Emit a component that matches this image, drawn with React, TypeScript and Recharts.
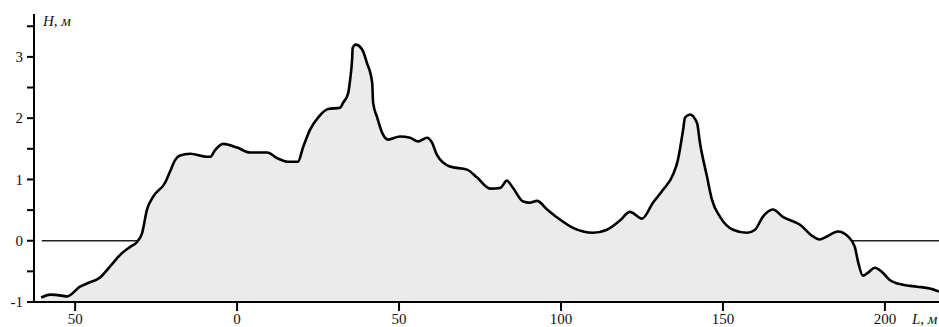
import React from 'react';
import { ComposedChart, Area, Line, XAxis, YAxis } from 'recharts';

// Profile: distance L (m) and height H (m)
const distance = [
  -60.5, -57.7, -53.7, -52.5, -48.5, -46.0, -42.3, -39.2, -36.1, -33.0, -30.9, -29.3, -27.8, -25.9,
  -22.2, -20.7, -19.1, -17.6, -14.5, -9.3, -8.3, -6.8, -4.3, 0, 4.0, 9.3, 12.3, 15.7, 18.8, 20.4,
  22.5, 25.0, 28.1, 31.8, 32.7, 34.3, 34.9, 35.5, 35.7, 36.6, 38.6, 40.1, 41.7, 42.0, 43.2, 44.8,
  46.6, 50.3, 53.4, 55.9, 58.6, 60.2, 61.7, 65.7, 71.0, 74.1, 78.1, 81.2, 83.3, 85.2, 88.3, 90.4,
  92.6, 95.7, 98.8, 103.7, 109.9, 114.2, 118.2, 121.3, 125.0, 128.4, 131.5, 134.6, 136.1, 137.7,
  138.3, 139.8, 142.0, 142.9, 145.1, 146.6, 149.1, 153.1, 157.4, 159.9, 162.3, 165.4, 168.5, 173.8,
  177.8, 179.9, 182.1, 185.5, 188.6, 190.7, 191.7, 193.2, 194.8, 196.9, 199.1, 201.5, 205.6, 209.9,
  213.9, 216.7,
];
const height = [
  -0.93, -0.88, -0.9, -0.91, -0.75, -0.69, -0.6, -0.42, -0.23, -0.1, -0.02, 0.13, 0.51, 0.72,
  0.95, 1.13, 1.32, 1.39, 1.42, 1.37, 1.37, 1.48, 1.58, 1.52, 1.44, 1.44, 1.35, 1.29, 1.29, 1.53,
  1.81, 2.01, 2.15, 2.17, 2.25, 2.41, 2.63, 2.95, 3.15, 3.2, 3.12, 2.9, 2.58, 2.25, 2.02, 1.76,
  1.65, 1.7, 1.68, 1.62, 1.68, 1.6, 1.4, 1.21, 1.16, 1.03, 0.85, 0.86, 0.98, 0.86, 0.64, 0.62,
  0.65, 0.51, 0.38, 0.21, 0.13, 0.18, 0.33, 0.47, 0.36, 0.62, 0.83, 1.08, 1.32, 1.81,
  2.01, 2.06, 1.92, 1.6, 1.04, 0.67, 0.39, 0.18, 0.13, 0.18, 0.39, 0.51, 0.39, 0.26,
  0.07, 0.02, 0.07, 0.15, 0.07, -0.1, -0.34, -0.57, -0.52, -0.44, -0.51, -0.64, -0.72, -0.75,
  -0.78, -0.83,
];

const xTickValues = [-50, 0, 50, 100, 150, 200];
const xTickLabels = ['50', '0', '50', '100', '150', '200'];
const yTickValues = [-1, -0.5, 0, 0.5, 1, 1.5, 2, 2.5, 3, 3.5];
const yTickLabels = ['-1', '', '0', '', '1', '', '2', '', '3', ''];

const zeroLineX = [-60.3, 216.7];
const zeroLineH = [0, 0];

const yAxisTitle = 'H, м';
const xAxisTitle = 'L, м';

const profile = distance.map((x, i) => ({ x, h: height[i] }));
const zeroLine = zeroLineX.map((x, i) => ({ x, z: zeroLineH[i] }));

const FONT = '"Liberation Serif", "Times New Roman", Times, serif';
const tickStyle = { fontFamily: FONT, fontSize: 15, fill: '#111' };
const X_DOMAIN: [number, number] = [-62.7, 216.7];
const Y_DOMAIN: [number, number] = [-1, 3.7];
const MARGIN = { top: 14, right: 0, bottom: 0, left: 0 };

export default function App() {
  return (
    <div
      style={{
        position: 'absolute',
        left: 0,
        top: 0,
        width: 939,
        height: 327,
        background: '#fff',
        fontFamily: FONT,
      }}
    >
      {/* Bottom layer: the zero reference line, hidden behind the profile */}
      <div style={{ position: 'absolute', left: 0, top: 0 }}>
        <ComposedChart width={939} height={327} data={zeroLine} margin={MARGIN}>
          <XAxis
            type="number"
            dataKey="x"
            domain={X_DOMAIN}
            allowDataOverflow
            height={25}
            tick={false}
            axisLine={false}
            tickLine={false}
          />
          <YAxis
            type="number"
            domain={Y_DOMAIN}
            allowDataOverflow
            width={34}
            tick={false}
            axisLine={false}
            tickLine={false}
          />
          <Line
            dataKey="z"
            type="linear"
            stroke="#222"
            strokeWidth={1.6}
            dot={false}
            activeDot={false}
            isAnimationActive={false}
          />
        </ComposedChart>
      </div>
      {/* Top layer: profile and axes */}
      <div style={{ position: 'absolute', left: 0, top: 0 }}>
        <ComposedChart width={939} height={327} data={profile} margin={MARGIN}>
          <XAxis
            type="number"
            dataKey="x"
            domain={X_DOMAIN}
            allowDataOverflow
            ticks={xTickValues}
            tickFormatter={(v: number) => xTickLabels[xTickValues.indexOf(v)] ?? ''}
            height={25}
            tickSize={9}
            tickMargin={2}
            tick={tickStyle}
            axisLine={{ stroke: '#000', strokeWidth: 2 }}
            tickLine={{ stroke: '#000', strokeWidth: 2 }}
            interval={0}
          />
          <YAxis
            type="number"
            domain={Y_DOMAIN}
            allowDataOverflow
            ticks={yTickValues}
            tickFormatter={(v: number) => yTickLabels[yTickValues.indexOf(v)] ?? ''}
            width={34}
            tickSize={7}
            tickMargin={4}
            tick={tickStyle}
            axisLine={{ stroke: '#000', strokeWidth: 2 }}
            tickLine={{ stroke: '#000', strokeWidth: 2 }}
            interval={0}
          />
          <Area
            dataKey="h"
            type="monotone"
            baseValue={-1}
            stroke="#000"
            strokeWidth={2.6}
            fill="#ebebeb"
            fillOpacity={1}
            dot={false}
            activeDot={false}
            isAnimationActive={false}
          />
        </ComposedChart>
      </div>
      <div
        style={{
          position: 'absolute',
          left: 43,
          top: 13,
          fontFamily: FONT,
          fontStyle: 'italic',
          fontSize: 15,
          color: '#111',
          whiteSpace: 'nowrap',
          lineHeight: '17px',
        }}
      >
        {yAxisTitle}
      </div>
      <div
        style={{
          position: 'absolute',
          left: 912,
          top: 311,
          fontFamily: FONT,
          fontStyle: 'italic',
          fontSize: 15,
          color: '#111',
          whiteSpace: 'nowrap',
          lineHeight: '17px',
        }}
      >
        {xAxisTitle}
      </div>
    </div>
  );
}
